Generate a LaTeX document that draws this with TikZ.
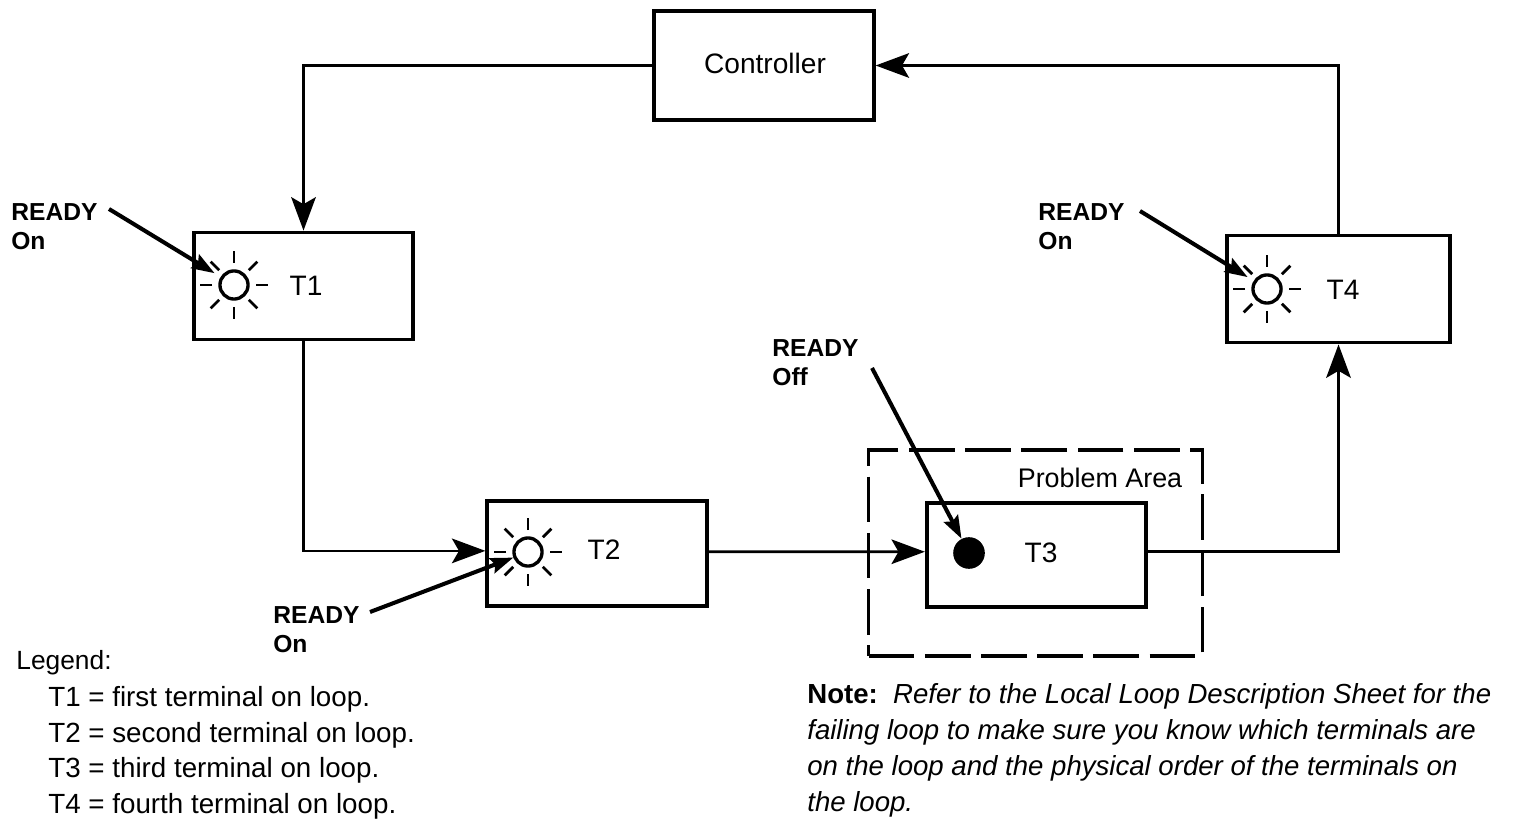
\documentclass[tikz,border=0pt]{standalone}
\usepackage{fontspec}
\setmainfont{Liberation Sans}
\usetikzlibrary{positioning, calc, arrows.meta}
\tikzset{
    box/.style={draw, line width=2.1pt, minimum width=125pt, minimum height=61pt, inner sep=0pt},
    areabox/.style={draw, line width=2.1pt, dash pattern=on 26pt off 6pt, minimum width=190pt, minimum height=117pt, inner sep=0pt},
    link/.style={line width=1.5pt, -{Stealth[length=19pt, width=14pt, inset=4pt]}},
    pointer/.style={line width=2.3pt, -{Stealth[length=13pt, width=9pt, inset=2pt]}},
    lamp/.style={circle, draw, line width=1.9pt, minimum size=16pt, inner sep=0pt},
    ray/.style={line width=1.6pt},
    boxlabel/.style={font=\fontsize{16}{20}\selectfont},
    status/.style={align=left, anchor=north west, inner sep=0pt, font=\fontsize{14}{16.4}\selectfont\bfseries},
    body/.style={align=left, anchor=west, inner sep=0pt, font=\fontsize{15.8}{20.3}\selectfont},
}
\begin{document}
\begin{tikzpicture}[x=0.02cm, y=-0.02cm]
    \useasboundingbox (0,0) rectangle (1523,820);
    % boxes
    \node[areabox] (problem) at (1035.5,553) {};
    \node[box, minimum height=62pt] (controller) at (764,65.5) {};
    \node[box] (t1) at (303.5,286) {};
    \node[box, minimum height=60pt] (t2) at (597,553.5) {};
    \node[box, minimum height=59pt] (t3) at (1036.5,555) {};
    \node[box, minimum width=127pt] (t4) at (1338.5,289) {};
    \node[boxlabel] (controllername) at (765,63) {Controller};
    \node[boxlabel] (t1name) at (306,286) {T1};
    \node[boxlabel] (t2name) at (604,550) {T2};
    \node[boxlabel] (t3name) at (1041,553) {T3};
    \node[boxlabel] (t4name) at (1343,290) {T4};
    \node[boxlabel, font=\fontsize{15.3}{20}\selectfont] (problemname) at (1100,478) {Problem Area};
    % loop
    \draw[link] (controller.west) -| (t1.north);
    \draw[link] (t1.south) |- ([yshift=1.5pt]t2.west);
    \draw[link] ([yshift=1pt]t2.east) -- ([yshift=1.85pt]t3.west);
    \draw[link] ([yshift=1.85pt]t3.east) -| (t4.south);
    \draw[link] (t4.north) |- (controller.east);
    % lamps
    \node[lamp] (lampa) at (234,285) {};
    \node[lamp] (lampb) at (528,552) {};
    \node[lamp] (lampd) at (1267,289) {};
    \node[circle, fill, minimum size=18pt, inner sep=0pt] (lampc) at (969,553) {};
    \foreach \lampname in {lampa, lampb, lampd} {
        \foreach \a in {0,90,180,270}
            \draw[ray] ($(\lampname)+(\a:22)$) -- ($(\lampname)+(\a:34)$);
        \foreach \a in {45,135,225,315}
            \draw[ray] ($(\lampname)+(\a:21)$) -- ($(\lampname)+(\a:33)$);
    }
    % status labels
    \node[status] (readya) at (11,203) {READY\\On};
    \node[status] (readyb) at (273,606) {READY\\On};
    \node[status] (readyc) at (772,339) {READY\\Off};
    \node[status] (readyd) at (1038,203) {READY\\On};
    \coordinate (starta) at (109,209);
    \coordinate (startb) at (370,612);
    \coordinate (startc) at (872,368);
    \coordinate (startd) at (1140,211);
    \draw[pointer, shorten >=4pt] (starta) -- (lampa);
    \draw[pointer] (startb) -- (lampb);
    \draw[pointer] (startc) -- (lampc);
    \draw[pointer, shorten >=4pt] (startd) -- (lampd);
    % legend and note
    \node[body, font=\fontsize{15}{20}\selectfont] (legend) at (16,663) {Legend:};
    \node[body, anchor=north west] (terms) at (48,686) {T1 = first terminal on loop.\\T2 = second terminal on loop.\\T3 = third terminal on loop.\\T4 = fourth terminal on loop.};
    \node[body, anchor=north west, font=\fontsize{15.7}{20.5}\selectfont] (note) at (807,683) {\textbf{Note:}\ \ \textit{Refer to the Local Loop Description Sheet for the}\\\textit{failing loop to make sure you know which terminals are}\\\textit{on the loop and the physical order of the terminals on}\\\textit{the loop.}};
\end{tikzpicture}
\end{document}
